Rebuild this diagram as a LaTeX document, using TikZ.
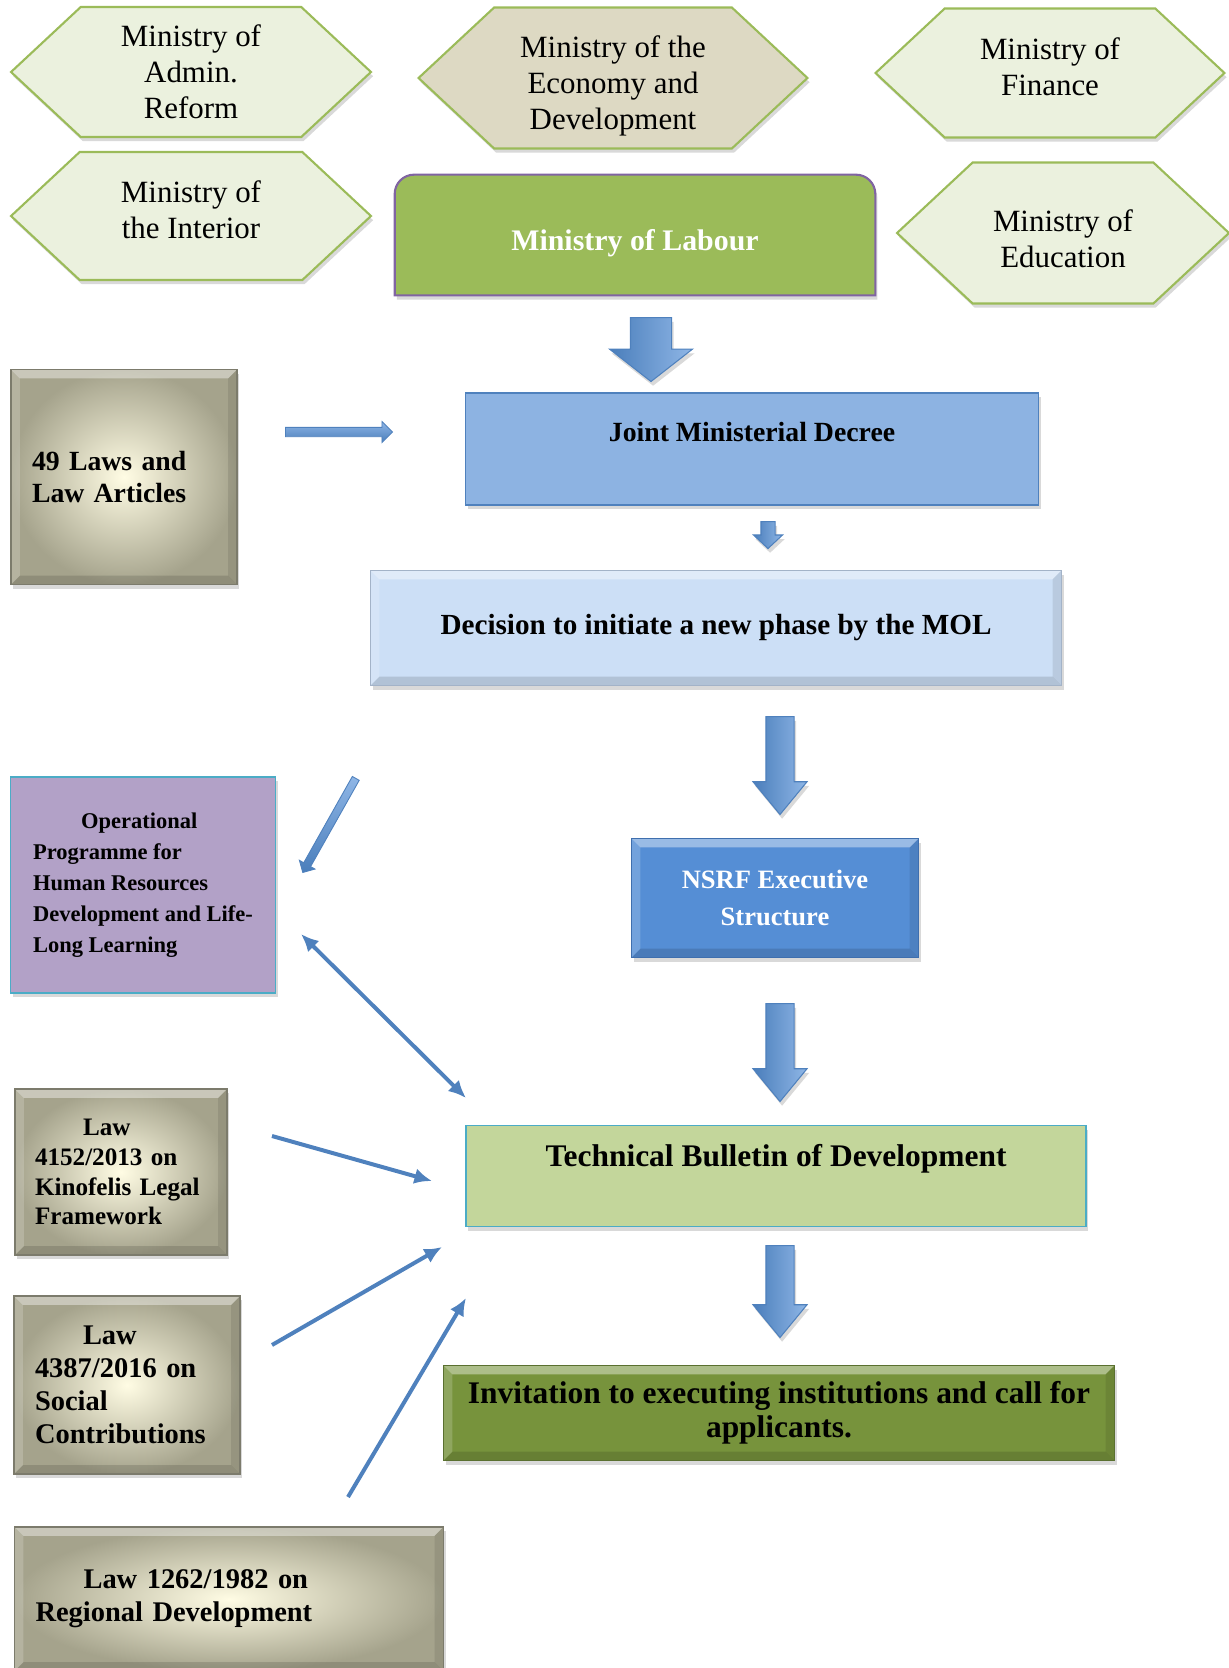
\documentclass[tikz,border=0pt]{standalone}
\usepackage{fontspec}
\setmainfont{Liberation Serif}
\usetikzlibrary{arrows.meta,positioning,shapes.symbols,shapes.arrows,shadows,backgrounds}

\definecolor{hexline}{HTML}{9BBB59}
\definecolor{hexfill}{HTML}{EBF1DE}
\definecolor{ecofill}{HTML}{DDD9C3}
\definecolor{labfill}{HTML}{9BBB59}
\definecolor{labline}{HTML}{8064A2}
\definecolor{jmdfill}{HTML}{8DB3E2}
\definecolor{jmdline}{HTML}{4F81BD}
\definecolor{decfill}{HTML}{CCDFF6}
\definecolor{decline}{HTML}{A3B3C8}
\definecolor{nsrffill}{HTML}{558ED5}
\definecolor{nsrfline}{HTML}{3F6FAE}
\definecolor{opsfill}{HTML}{B2A1C7}
\definecolor{opsline}{HTML}{4BACC6}
\definecolor{tbdfill}{HTML}{C3D69B}
\definecolor{tbdline}{HTML}{4BACC6}
\definecolor{invfill}{HTML}{77933C}
\definecolor{invline}{HTML}{5A7030}
\definecolor{lawin}{HTML}{FFFCE4}
\definecolor{lawout}{HTML}{A5A38C}
\definecolor{lawline}{HTML}{7C7B6C}
\definecolor{arrline}{HTML}{4F81BD}
\definecolor{arrdark}{HTML}{4A7EBB}
\definecolor{arrlight}{HTML}{8FB6E6}

\begin{document}
\begin{tikzpicture}[x=0.02cm, y=-0.02cm, >={Latex[length=10pt,width=9pt]},
  shadowed/.style={drop shadow={opacity=.3, shadow xshift=1.2pt, shadow yshift=-2.4pt}},
  hexa/.style={signal, signal to=west and east, signal pointer angle=86,
               draw=hexline, line width=1.2pt, fill=hexfill, inner sep=0pt,
               align=center, shadowed, font=\fontsize{17.6}{20.4}\selectfont},
  panel/.style={rectangle, align=center, inner sep=0pt, line width=1pt, shadowed},
  bevel/.style={path picture={
      \fill[white, opacity=.4] (path picture bounding box.north west) -- (path picture bounding box.north east)
        -- ++(-5pt,-5pt) -- ([shift={(5pt,-5pt)}]path picture bounding box.north west) -- cycle;
      \fill[white, opacity=.18] (path picture bounding box.north west) -- (path picture bounding box.south west)
        -- ++(5pt,5pt) -- ([shift={(5pt,-5pt)}]path picture bounding box.north west) -- cycle;
      \fill[black, opacity=.09] (path picture bounding box.north east) -- (path picture bounding box.south east)
        -- ++(-5pt,5pt) -- ([shift={(-5pt,-5pt)}]path picture bounding box.north east) -- cycle;
      \fill[black, opacity=.13] (path picture bounding box.south west) -- (path picture bounding box.south east)
        -- ++(-5pt,5pt) -- ([shift={(5pt,5pt)}]path picture bounding box.south west) -- cycle;}},
  lawbox/.style={panel, bevel, draw=lawline, inner color=lawin, outer color=lawout,
                 align=left, inner xsep=0.42cm},
  bigarrow/.style={single arrow, shape border rotate=270, anchor=tail,
                   draw=arrline, line width=0.6pt, left color=arrdark, right color=arrlight,
                   inner sep=0.27cm, single arrow head extend=0.26cm,
                   single arrow tip angle=79, minimum height=1.96cm, shadowed},
  thinarrow/.style={single arrow, anchor=tail, draw=arrline, line width=0.5pt,
                    top color=arrlight, bottom color=arrdark, inner sep=0.085cm,
                    single arrow head extend=0.115cm, single arrow tip angle=90,
                    minimum height=2.14cm},
  link/.style={draw=arrline, line width=0.08cm, ->}]

\useasboundingbox (0,0) rectangle (1229,1668);

% ministries on top
\node[hexa, minimum width=7.2cm,  minimum height=2.6cm]  (adm) at (191,72)  {Ministry of\\Admin.\\Reform};
\node[hexa, minimum width=7.2cm,  minimum height=2.56cm] (int) at (191,216)
  {Ministry of\\the Interior\rule[-7pt]{0pt}{0pt}};
\node[hexa, fill=ecofill, minimum width=7.78cm, minimum height=2.82cm] (eco) at (613,78)
  {\rule{0pt}{21.5pt}Ministry of the\\Economy and\\Development};
\node[hexa, minimum width=6.98cm, minimum height=2.58cm] (fin) at (1050,73)
  {Ministry of\\Finance\rule[-7pt]{0pt}{0pt}};
\node[hexa, minimum width=6.64cm, minimum height=2.82cm] (edu) at (1063,233)
  {\rule{0pt}{19.3pt}Ministry of\\Education};

\node[minimum width=9.6cm, minimum height=2.4cm, text height=21pt, text=white,
      font=\bfseries\fontsize{17}{20}\selectfont] (lab) at (635,235) {Ministry of Labour};
\begin{scope}[on background layer]
  \draw[draw=labline, fill=labfill, line width=1.2pt, shadowed]
    (lab.south west) -- ([yshift=-11pt]lab.north west) arc[start angle=180, end angle=90, radius=11pt]
    -- ([xshift=-11pt]lab.north east) arc[start angle=90, end angle=0, radius=11pt]
    -- (lab.south east) -- cycle;
\end{scope}

% main column
\node[lawbox, text width=3.68cm, minimum height=4.3cm,
      font=\bfseries\fontsize{15.8}{18.7}\selectfont] (art) at (124,477) {49 Laws and\\Law Articles};
\node[panel, draw=jmdline, fill=jmdfill, minimum width=11.46cm, minimum height=2.24cm, text depth=0.68cm,
      font=\bfseries\fontsize{15.8}{18}\selectfont] (jmd) at (752,449) {Joint Ministerial Decree};
\node[panel, bevel, draw=decline, fill=decfill, minimum width=13.82cm, minimum height=2.3cm,
      font=\bfseries\fontsize{16.6}{19}\selectfont] (dec) at (716,628) {Decision to initiate a new phase by the MOL};
\node[panel, draw=opsline, fill=opsfill, align=left, minimum width=5.3cm, minimum height=4.32cm,
      font=\bfseries\fontsize{12.8}{17.6}\selectfont] (ops) at (143,885)
  {\hspace*{0.96cm}Operational\\Programme for\\Human Resources\\Development and Life-\\Long Learning};
\node[panel, bevel, draw=nsrfline, fill=nsrffill, text=white, minimum width=5.74cm, minimum height=2.38cm,
      font=\bfseries\fontsize{15.1}{21.5}\selectfont] (nsrf) at (775,898) {NSRF Executive\\Structure};
\node[panel, draw=tbdline, fill=tbdfill, minimum width=12.4cm, minimum height=2.02cm, text depth=0.84cm,
      font=\bfseries\fontsize{17.9}{21}\selectfont] (tbd) at (776,1176) {Technical Bulletin of Development};
\node[panel, bevel, draw=invline, fill=invfill, minimum width=13.42cm, minimum height=1.9cm,
      font=\bfseries\fontsize{17.9}{19.3}\selectfont] (inv) at (779,1413)
  {Invitation to executing institutions and call for\\applicants.};

% laws feeding the bulletin
\node[lawbox, text width=3.44cm, inner xsep=0.4cm, minimum height=3.32cm,
      font=\bfseries\fontsize{14.3}{17}\selectfont] (kin) at (121,1172)
  {\hspace*{0.96cm}Law\\4152/2013 on\\Kinofelis Legal\\Framework};
\node[lawbox, text width=3.68cm, minimum height=3.56cm,
      font=\bfseries\fontsize{16.2}{18.7}\selectfont] (soc) at (127,1385)
  {\hspace*{0.96cm}Law\\4387/2016 on\\Social\\Contributions};
\node[lawbox, text width=7.74cm, minimum height=2.88cm,
      font=\bfseries\fontsize{16.2}{18.7}\selectfont] (reg) at (229,1599)
  {\hspace*{0.96cm}Law 1262/1982 on\\Regional Development};

% block arrows
\node[bigarrow, inner sep=0.4cm, single arrow head extend=0.42cm, single arrow tip angle=104,
      minimum height=1.28cm] (a1) at (651,317) {};
\node[bigarrow, inner sep=0.13cm, single arrow head extend=0.15cm, single arrow tip angle=94,
      minimum height=0.54cm] (a2) at (768,521) {};
\node[bigarrow] (a3) at (780,716) {};
\node[bigarrow] (a4) at (780,1003) {};
\node[bigarrow, minimum height=1.84cm] (a5) at (780,1245) {};
\node[thinarrow] (t1) at (285,432) {};
\node[thinarrow, rotate=240.6, minimum height=2.16cm, inner sep=0.07cm,
      single arrow head extend=0.1cm] (t2) at (356,778) {};

% loose links into the bulletin
\coordinate (l1a) at (301,934);  \coordinate (l1b) at (466,1098);
\coordinate (l2a) at (272,1136); \coordinate (l2b) at (432,1181);
\coordinate (l3a) at (272,1345); \coordinate (l3b) at (442,1247);
\coordinate (l4a) at (348,1497); \coordinate (l4b) at (466,1298);
\draw[link, <->] (l1a) -- (l1b);
\draw[link] (l2a) -- (l2b);
\draw[link] (l3a) -- (l3b);
\draw[link] (l4a) -- (l4b);

\end{tikzpicture}
\end{document}
